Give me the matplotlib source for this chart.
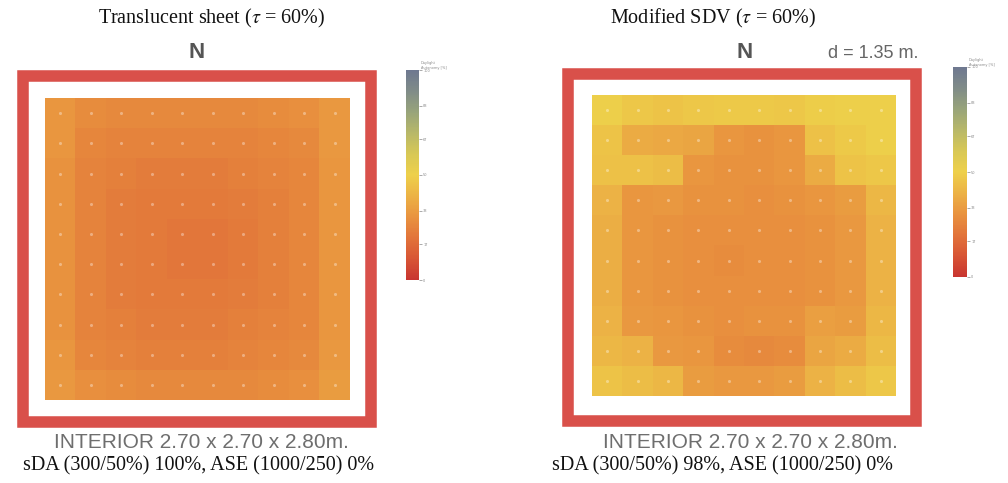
import numpy as np
import matplotlib
matplotlib.use("Agg")
import matplotlib.pyplot as plt
from matplotlib.colors import LinearSegmentedColormap, Normalize
from matplotlib.patches import Rectangle
import matplotlib.cm as cm

plt.rcParams["mathtext.fontset"] = "stix"

# ---------------- data ----------------
titles = ["Translucent sheet ($\\it{\\tau}$ = 60%)", "Modified SDV ($\\it{\\tau}$ = 60%)"]
room_label = "INTERIOR 2.70 x 2.70 x 2.80m."
metrics = ["sDA (300/50%) 100%, ASE (1000/250) 0%", "sDA (300/50%) 98%, ASE (1000/250) 0%"]
depth_label = "d = 1.35 m."
cbar_title = "Daylight\nAutonomy [%]"
cbar_ticks = [0, 17, 33, 50, 67, 83, 100]

translucent_da = [
    [31, 28, 27, 27, 27, 27, 27, 28, 29, 32],
    [31, 26, 25, 25, 25, 25, 25, 26, 27, 32],
    [30, 25, 24, 23, 23, 23, 24, 25, 26, 31],
    [30, 25, 23, 22, 22, 22, 23, 24, 26, 31],
    [30, 25, 23, 22, 21, 21, 22, 24, 26, 31],
    [30, 25, 23, 22, 21, 21, 22, 24, 26, 31],
    [30, 25, 23, 22, 22, 22, 23, 24, 26, 31],
    [30, 25, 24, 23, 23, 23, 24, 25, 26, 31],
    [31, 26, 25, 24, 24, 24, 25, 26, 27, 32],
    [32, 29, 28, 27, 27, 27, 27, 28, 29, 33],
]

sdv_da = [
    [50, 47, 46, 47, 48, 48, 47, 49, 50, 50],
    [46, 38, 37, 36, 31, 30, 31, 45, 48, 50],
    [45, 45, 44, 31, 30, 30, 31, 38, 46, 47],
    [40, 31, 32, 30, 30, 29, 30, 31, 33, 42],
    [39, 31, 30, 29, 29, 29, 29, 30, 32, 40],
    [39, 31, 30, 29, 28, 29, 29, 30, 32, 40],
    [39, 31, 30, 29, 29, 29, 29, 30, 32, 40],
    [40, 32, 31, 30, 29, 30, 30, 34, 33, 42],
    [42, 40, 32, 31, 28, 27, 28, 36, 38, 44],
    [46, 44, 42, 33, 32, 32, 33, 40, 44, 47],
]
panels_data = [translucent_da, sdv_da]

# ---------------- style ----------------
cmap = LinearSegmentedColormap.from_list("da", [
    (0.00, "#c83530"), (0.10, "#d85535"), (0.20, "#e2743a"), (0.30, "#e9933f"),
    (0.40, "#ecb245"), (0.50, "#eed04a"), (0.60, "#d8c855"), (0.70, "#b8b868"),
    (0.80, "#98a47a"), (0.90, "#808c88"), (1.00, "#6e7890")])
norm = Normalize(0, 100)

W, H = 1008, 483
fig = plt.figure(figsize=(W / 100, H / 100), dpi=100)

def fx(x):
    return x / W

def fy(y):
    return 1 - y / H

def ax_px(x0, y0, x1, y1):
    return fig.add_axes([fx(x0), fy(y1), fx(x1) - fx(x0), (y1 - y0) / H])

# layout per panel (pixel coords)
layouts = [
    dict(frame=(23, 76, 371, 422), heat=(45, 98, 350, 400), cbar=(406, 70, 419, 280),
         title_x=212, n_x=197, room_x=201, metric_x=23),
    dict(frame=(568, 74, 916, 421), heat=(592, 95, 896, 396), cbar=(953, 67, 967, 277),
         title_x=713, n_x=745, room_x=750, metric_x=552),
]

frame_color = "#d9504a"
serif = ["Liberation Serif", "DejaVu Serif"]
sans = ["Liberation Sans", "DejaVu Sans"]

for i, (lay, data) in enumerate(zip(layouts, panels_data)):
    arr = np.array(data, dtype=float)
    x0, y0, x1, y1 = lay["heat"]
    ax = ax_px(x0, y0, x1, y1)
    ax.imshow(arr, cmap=cmap, norm=norm, interpolation="nearest", aspect="auto")
    rows, cols = arr.shape
    yy, xx = np.mgrid[0:rows, 0:cols]
    ax.scatter(xx.ravel(), yy.ravel(), s=5, color="white", alpha=0.35, linewidths=0)
    ax.set_xlim(-0.5, cols - 0.5)
    ax.set_ylim(rows - 0.5, -0.5)
    ax.axis("off")

    # red frame
    fx0, fy0, fx1, fy1 = lay["frame"]
    fig.patches.append(Rectangle((fx(fx0), fy(fy1)), fx(fx1) - fx(fx0), (fy1 - fy0) / H,
                                 transform=fig.transFigure, fill=False,
                                 edgecolor=frame_color, linewidth=8.3, zorder=5))

    # colorbar
    cx0, cy0, cx1, cy1 = lay["cbar"]
    cax = ax_px(cx0, cy0, cx1, cy1)
    cb = fig.colorbar(cm.ScalarMappable(norm=norm, cmap=cmap), cax=cax, ticks=cbar_ticks)
    cb.outline.set_visible(False)
    cax.tick_params(length=2, width=0.5, colors="#888888", labelsize=2.5, pad=1)
    cax.text(1.15, 1.0, cbar_title, transform=cax.transAxes, fontsize=2.5,
             color="#888888", ha="left", va="bottom")

    # texts
    fig.text(fx(lay["title_x"]), fy(18), titles[i], ha="center", va="center",
             fontsize=14.5, family=serif, color="#111111")
    fig.text(fx(lay["n_x"]), fy(52), "N", ha="center", va="center",
             fontsize=16, fontweight="bold", family=sans, color="#555555")
    fig.text(fx(lay["room_x"]), fy(443), room_label, ha="center", va="center",
             fontsize=15, family=sans, color="#6e6e6e")
    fig.text(fx(lay["metric_x"]), fy(466), metrics[i], ha="left", va="center",
             fontsize=14.5, family=serif, color="#111111")

fig.text(fx(873), fy(53), depth_label, ha="center", va="center",
         fontsize=13, family=sans, color="#666666")

fig.savefig("out.png", dpi=100)
